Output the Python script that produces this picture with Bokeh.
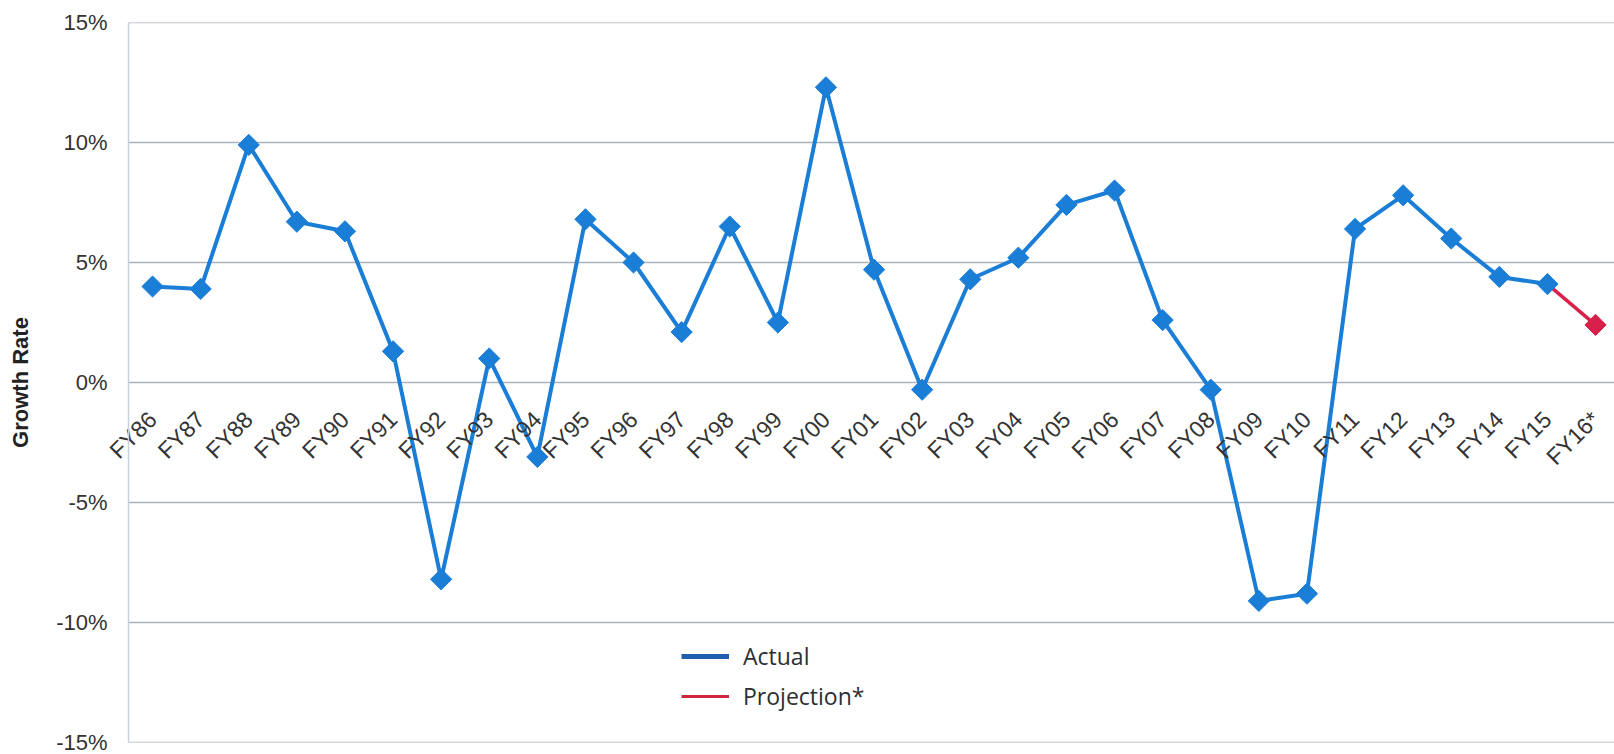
import math
from bokeh.plotting import figure
from bokeh.models import (ColumnDataSource, Range1d, FixedTicker, PrintfTickFormatter,
                          Legend, LegendItem, Span)
from bokeh.embed import file_html
from bokeh.resources import INLINE

# ---- data ----
years = ["FY86", "FY87", "FY88", "FY89", "FY90", "FY91", "FY92", "FY93", "FY94", "FY95",
         "FY96", "FY97", "FY98", "FY99", "FY00", "FY01", "FY02", "FY03", "FY04", "FY05",
         "FY06", "FY07", "FY08", "FY09", "FY10", "FY11", "FY12", "FY13", "FY14", "FY15",
         "FY16*"]
actual = [4.0, 3.9, 9.9, 6.7, 6.3, 1.3, -8.2, 1.0, -3.1, 6.8,
          5.0, 2.1, 6.5, 2.5, 12.3, 4.7, -0.3, 4.3, 5.2, 7.4,
          8.0, 2.6, -0.3, -9.1, -8.8, 6.4, 7.8, 6.0, 4.4, 4.1]
projection = [4.1, 2.4]          # FY15 -> FY16*
y_ticks = [-15, -10, -5, 0, 5, 10, 15]

x_all = list(range(len(years)))
src_actual = ColumnDataSource(dict(x=x_all[:len(actual)], y=actual))
src_proj = ColumnDataSource(dict(x=x_all[len(actual) - 1:], y=projection))
src_pmark = ColumnDataSource(dict(x=x_all[-1:], y=projection[-1:]))

BLUE = "#1A7DD6"
RED = "#D8214A"

W, H = 1614, 754
AXIS_X, TOP, BOTTOM = 128, 22, 12   # value-axis line position (px) and borders
FRAME_LEFT = 95                     # frame starts a bit left so first label is not clipped
band = 48.1
x_start = -0.5 - (AXIS_X - FRAME_LEFT) / band
x_end = -0.5 + (W - AXIS_X) / band

p = figure(width=W, height=H, output_backend="svg", toolbar_location=None,
           x_range=Range1d(x_start, x_end), y_range=Range1d(-15, 15),
           min_border_left=FRAME_LEFT, min_border_right=0, min_border_top=TOP,
           min_border_bottom=BOTTOM)
p.outline_line_color = None
p.background_fill_color = "white"
p.border_fill_color = "white"

# horizontal gridlines starting at the value axis
p.xgrid.visible = False
p.ygrid.visible = False
grid_src = ColumnDataSource(dict(x0=[-0.5] * len(y_ticks), x1=[x_end] * len(y_ticks),
                                 y=y_ticks))
p.segment(x0="x0", y0="y", x1="x1", y1="y", source=grid_src,
          line_color="#AAB2BC", line_width=1.5)
p.add_layout(Span(location=-0.5, dimension="height", line_color="#C8D2DE", line_width=1.5))

# category axis crossing at 0 (like the original)
xax = p.xaxis[0]
xax.fixed_location = 0
xax.ticker = FixedTicker(ticks=x_all)
xax.major_label_overrides = {i: t for i, t in zip(x_all, years)}
xax.major_label_orientation = math.pi / 4
xax.axis_line_color = None
xax.major_tick_line_color = None
xax.minor_tick_line_color = None
xax.major_tick_out = 0
xax.major_label_standoff = 33
xax.major_label_text_font = "Liberation Sans"
xax.major_label_text_font_size = "23px"
xax.major_label_text_color = "#333333"

# value axis
yax = p.yaxis[0]
yax.ticker = FixedTicker(ticks=y_ticks)
yax.formatter = PrintfTickFormatter(format="%d%%")
yax.axis_line_color = None
yax.major_tick_line_color = None
yax.minor_tick_line_color = None
yax.major_tick_out = 0
yax.major_label_standoff = 21 - (AXIS_X - FRAME_LEFT)
yax.major_label_text_font = "Liberation Sans"
yax.major_label_text_font_size = "22px"
yax.major_label_text_color = "#333333"
yax.axis_label = "Growth Rate"
yax.axis_label_text_font = "Liberation Sans"
yax.axis_label_text_font_style = "bold"
yax.axis_label_text_font_size = "22px"
yax.axis_label_text_color = "#222222"
yax.axis_label_standoff = 20

# series
p.line(x="x", y="y", source=src_actual, line_color=BLUE, line_width=4)
p.line(x="x", y="y", source=src_proj, line_color=RED, line_width=3.5)
p.scatter(x="x", y="y", source=src_actual, marker="square", angle=math.pi / 4, size=15,
          fill_color=BLUE, line_color=BLUE)
p.scatter(x="x", y="y", source=src_pmark, marker="square", angle=math.pi / 4, size=15,
          fill_color=RED, line_color=RED)

# legend (styled stand-in renderers placed outside the visible range)
leg_a = p.line(x=[-5, -4], y=[0, 0], line_color="#1F5FAE", line_width=5)
leg_p = p.line(x=[-5, -4], y=[0, 0], line_color="#D0263E", line_width=3)
legend = Legend(items=[LegendItem(label="Actual", renderers=[leg_a]),
                       LegendItem(label="Projection*", renderers=[leg_p])],
                location=(553 + AXIS_X - FRAME_LEFT, 30), orientation="vertical")
legend.border_line_color = None
legend.background_fill_alpha = 0
legend.padding = 0
legend.margin = 0
legend.spacing = 8
legend.glyph_width = 48
legend.glyph_height = 24
legend.label_height = 24
legend.label_standoff = 14
legend.label_text_font = "Open Sans"
legend.label_text_font_size = "23px"
legend.label_text_color = "#2B2F33"
p.add_layout(legend)

open("out.html", "w").write(file_html(p, INLINE))
